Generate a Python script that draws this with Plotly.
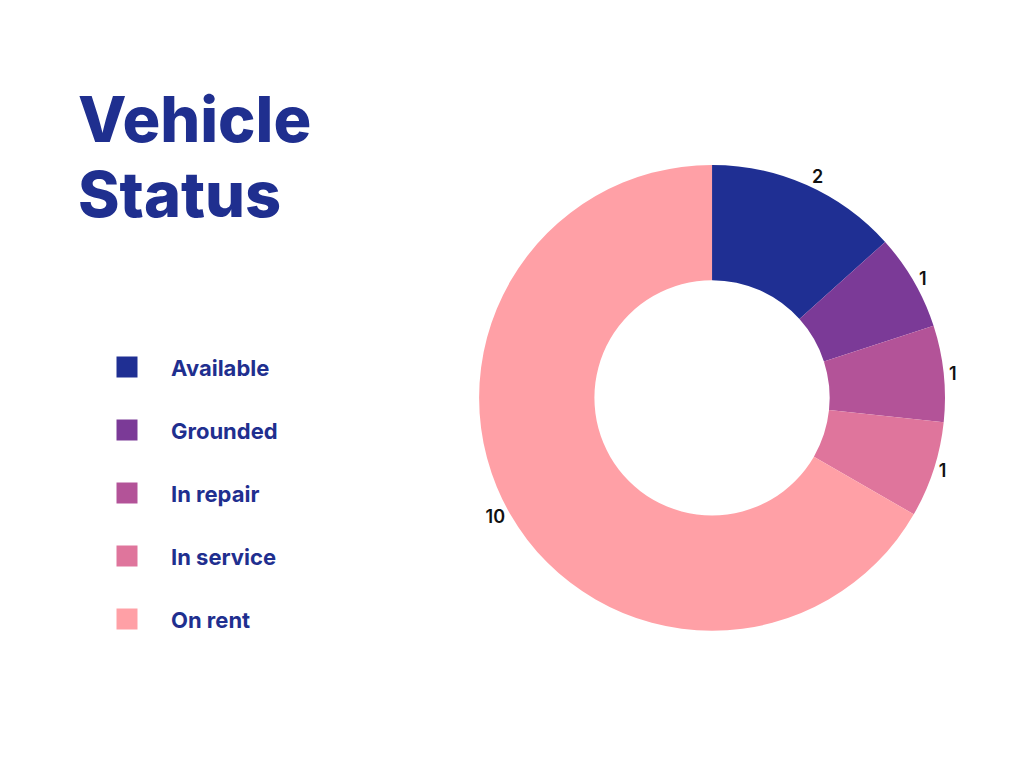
import plotly.graph_objects as go

categories = ["Available", "Grounded", "In repair", "In service", "On rent"]
values = [2, 1, 1, 1, 10]
colors = ["#1f2f93", "#7b3a97", "#b35398", "#df759c", "#ffa0a6"]
title_lines = ["Vehicle", "Status"]

TITLE_COLOR = "#1f2f8f"
FONT = "Inter"

fig = go.Figure()

fig.add_trace(go.Pie(
    labels=categories,
    values=values,
    marker=dict(colors=colors, line=dict(width=0)),
    hole=0.505,
    sort=False,
    direction="clockwise",
    rotation=0,
    textinfo="value",
    textposition="outside",
    textfont=dict(family=FONT, size=18, color="#111111", weight=600),
    outsidetextfont=dict(family=FONT, size=18, color="#111111", weight=600),
    domain=dict(x=[0.4678, 0.9229], y=[0.1787, 0.7853]),
    showlegend=False,
    hoverinfo="label+value",
))

# custom legend built from the category list
fig.add_trace(go.Scatter(
    x=[0] * len(categories),
    y=categories,
    mode="markers",
    marker=dict(symbol="square", size=21, color=colors, line=dict(width=0)),
    xaxis="x", yaxis="y",
    showlegend=False,
    hoverinfo="skip",
))
fig.add_trace(go.Scatter(
    x=[44] * len(categories),
    y=categories,
    mode="text",
    text=categories,
    textposition="middle right",
    textfont=dict(family=FONT, size=22, color=TITLE_COLOR, weight=700),
    xaxis="x", yaxis="y2",
    showlegend=False,
    hoverinfo="skip",
))

for i, line in enumerate(title_lines):
    fig.add_annotation(
        text=line,
        xref="paper", yref="paper",
        x=76 / 1024, y=1 - (119 + 75 * i) / 768,
        xanchor="left", yanchor="middle",
        showarrow=False,
        font=dict(family=FONT, size=63, color=TITLE_COLOR, weight=800),
    )

fig.update_layout(
    width=1024, height=768,
    margin=dict(l=0, r=0, t=0, b=0),
    paper_bgcolor="white",
    plot_bgcolor="white",
    xaxis=dict(domain=[0, 0.4], range=[-127, 282.6], visible=False, fixedrange=True),
    yaxis=dict(domain=[0, 1], type="category", range=[(768 - 367) / 63, -367 / 63],
               visible=False, fixedrange=True),
    yaxis2=dict(domain=[0, 1], type="category", range=[(768 - 370) / 63, -370 / 63],
                visible=False, fixedrange=True, overlaying="y"),
)

fig.write_html("out.html")
